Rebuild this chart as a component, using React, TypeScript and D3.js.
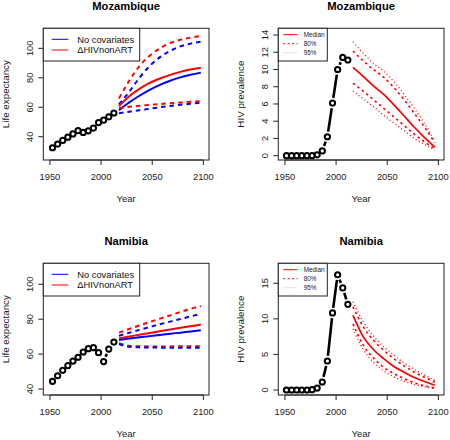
import React from 'react';
import * as d3 from 'd3';

// ---------- data ----------
const leObsYears = [1952.5, 1957.5, 1962.5, 1967.5, 1972.5, 1977.5, 1982.5, 1987.5, 1992.5, 1997.5, 2002.5, 2007.5, 2012.5];
const hivObsYears = [1951.5, 1956.5, 1961.5, 1966.5, 1971.5, 1976.5, 1981.5, 1986.5, 1991.5, 1996.5, 2001.5, 2006.5, 2011.5];
const leProjYears = [2017.5, 2027.5, 2037.5, 2047.5, 2057.5, 2067.5, 2077.5, 2087.5, 2097.5];
const hivProjYears = [2016.5, 2026.5, 2036.5, 2046.5, 2056.5, 2066.5, 2076.5, 2086.5, 2096.5];

const yearTicks = [1950, 2000, 2050, 2100];
const leTicks = [40, 60, 80, 100];
const mozHivTicks = [0, 2, 4, 6, 8, 10, 12, 14];
const namHivTicks = [0, 5, 10, 15];

const countries = ['Mozambique', 'Namibia'];
const leLegendLabels = ['No covariates', '\u0394HIVnonART'];
const hivLegendLabels = ['Median', '80%', '95%'];

// Mozambique life expectancy
const mozLE = [32.5, 35.0, 37.5, 39.7, 41.9, 44.1, 42.9, 44.0, 45.9, 49.6, 51.3, 53.5, 56.1];
const mozNoCovMedian = [58.0, 63.3, 67.8, 71.8, 75.2, 78.0, 80.3, 82.1, 83.5];
const mozNoCovUpper = [62.0, 70.5, 80.0, 88.0, 94.0, 98.3, 101.3, 103.2, 104.5];
const mozNoCovLower = [56.0, 57.0, 58.0, 59.0, 60.0, 60.9, 61.7, 62.4, 63.0];
const mozHivMedian = [60.8, 67.5, 72.5, 76.5, 79.5, 82.0, 84.0, 85.6, 86.8];
const mozHivUpper = [66.0, 78.0, 88.0, 95.0, 100.0, 103.5, 105.8, 107.3, 108.4];
const mozHivLower = [59.5, 60.3, 61.0, 61.6, 62.2, 62.7, 63.2, 63.7, 64.1];

// Namibia life expectancy
const namLE = [44.4, 47.6, 50.7, 53.4, 56.0, 58.2, 61.2, 63.1, 63.7, 60.8, 55.7, 62.9, 66.9];
const namNoCovMedian = [68.1, 68.9, 69.6, 70.3, 71.0, 71.7, 72.3, 73.0, 73.6];
const namNoCovUpper = [70.5, 72.2, 73.9, 75.5, 77.1, 78.6, 80.1, 81.6, 83.0];
const namNoCovLower = [65.8, 64.2, 63.9, 63.8, 63.7, 63.7, 63.7, 63.7, 63.7];
const namHivMedian = [69.0, 70.1, 71.1, 72.1, 73.1, 74.1, 75.1, 76.0, 76.9];
const namHivUpper = [72.3, 74.4, 76.4, 78.4, 80.3, 82.2, 84.1, 85.9, 87.6];
const namHivLower = [66.2, 64.8, 64.5, 64.4, 64.4, 64.4, 64.5, 64.5, 64.6];

// Mozambique HIV prevalence
const mozPrev = [0, 0, 0, 0, 0, 0, 0.1, 0.55, 2.2, 6.1, 10.0, 11.4, 11.1];
const mozPrevMedian = [10.25, 9.2, 8.1, 7.1, 5.9, 4.6, 3.3, 2.1, 1.0];
const mozPrev80Upper = [12.15, 11.0, 10.0, 9.1, 7.9, 6.5, 4.9, 3.3, 1.5];
const mozPrev80Lower = [8.4, 7.5, 6.5, 5.5, 4.5, 3.5, 2.5, 1.6, 0.8];
const mozPrev95Upper = [13.2, 11.9, 10.7, 9.8, 8.6, 7.1, 5.5, 3.7, 1.7];
const mozPrev95Lower = [7.5, 6.6, 5.7, 4.7, 3.8, 2.9, 2.0, 1.3, 0.65];

// Namibia HIV prevalence
const namPrev = [0, 0, 0, 0, 0, 0.05, 0.28, 1.13, 4.08, 10.83, 16.2, 14.35, 12.05];
const namPrevMedian = [10.5, 7.5, 5.7, 4.4, 3.3, 2.5, 1.75, 1.2, 0.66];
const namPrev80Upper = [11.7, 8.9, 7.0, 5.6, 4.4, 3.4, 2.5, 1.8, 1.1];
const namPrev80Lower = [9.3, 6.3, 4.5, 3.2, 2.3, 1.6, 1.0, 0.6, 0.28];
const namPrev95Upper = [12.4, 9.6, 7.6, 6.1, 4.9, 3.8, 2.9, 2.1, 1.35];
const namPrev95Lower = [8.6, 5.7, 3.9, 2.7, 1.85, 1.25, 0.8, 0.45, 0.2];

// ---------- styles ----------
const FONT = '"Liberation Sans", Arial, Helvetica, sans-serif';
const BLUE = '#0000ff';
const RED = '#ff0000';
const AXIS = '#222';

type Series = { values: number[]; color: string; dash?: string; width: number };

type PanelProps = {
  left: number; right: number; top: number; bottom: number;
  yDomain: [number, number];
  yTicks: number[];
  title: string;
  yLabel: string;
  obsYears: number[];
  obs: number[];
  projYears: number[];
  series: Series[];
  legend: 'le' | 'hiv';
};

function Panel(p: PanelProps) {
  const x = d3.scaleLinear().domain([1943.5, 2105.5]).range([p.left, p.right]);
  const y = d3.scaleLinear().domain(p.yDomain).range([p.bottom, p.top]);
  const line = d3.line<number>()
    .x((_, i) => x(p.projYears[i]))
    .y((d) => y(d))
    .curve(d3.curveMonotoneX);

  // type="b" segments with gaps around points
  const pts = p.obs.map((v, i) => [x(p.obsYears[i]), y(v)]);
  const gap = 5.2;
  const segs: number[][] = [];
  for (let i = 0; i < pts.length - 1; i++) {
    const [x0, y0] = pts[i];
    const [x1, y1] = pts[i + 1];
    const dx = x1 - x0, dy = y1 - y0;
    const d = Math.sqrt(dx * dx + dy * dy);
    if (d > 2 * gap) {
      const ux = dx / d, uy = dy / d;
      segs.push([x0 + ux * gap, y0 + uy * gap, x1 - ux * gap, y1 - uy * gap]);
    }
  }

  const cx = (p.left + p.right) / 2;
  const cy = (p.top + p.bottom) / 2;

  return (
    <g fontFamily={FONT}>
      <text x={cx} y={p.top - 18.5} textAnchor="middle" fontWeight="bold" fontSize={11.2} fill="#000">{p.title}</text>
      {/* x axis */}
      {yearTicks.map((t) => (
        <g key={'xt' + t}>
          <line x1={x(t)} x2={x(t)} y1={p.bottom} y2={p.bottom + 5} stroke={AXIS} strokeWidth={1} />
          <text x={x(t)} y={p.bottom + 16.7} dy="0.35em" textAnchor="middle" fontSize={9.3} fill="#222">{t}</text>
        </g>
      ))}
      <line x1={x(yearTicks[0])} x2={x(yearTicks[yearTicks.length - 1])} y1={p.bottom} y2={p.bottom} stroke={AXIS} />
      <text x={cx} y={p.bottom + 39} dy="0.35em" textAnchor="middle" fontSize={9.5} fill="#222">Year</text>
      {/* y axis */}
      {p.yTicks.map((t) => (
        <g key={'yt' + t}>
          <line x1={p.left - 5} x2={p.left} y1={y(t)} y2={y(t)} stroke={AXIS} strokeWidth={1} />
          <text transform={`translate(${p.left - 14},${y(t)}) rotate(-90)`} dy="0.35em" textAnchor="middle" fontSize={9.3} fill="#222">{t}</text>
        </g>
      ))}
      <text transform={`translate(${p.left - 37.3},${cy}) rotate(-90)`} dy="0.35em" textAnchor="middle" fontSize={9.8} fill="#222">{p.yLabel}</text>

      {/* projections */}
      {p.series.map((s, i) => (
        <path key={'s' + i} d={line(s.values) || ''} fill="none" stroke={s.color} strokeWidth={s.width} strokeDasharray={s.dash} />
      ))}

      {/* observed */}
      {segs.map((s, i) => (
        <line key={'seg' + i} x1={s[0]} y1={s[1]} x2={s[2]} y2={s[3]} stroke="#000" strokeWidth={2.6} />
      ))}
      {pts.map((q, i) => (
        <circle key={'c' + i} cx={q[0]} cy={q[1]} r={2.6} fill="none" stroke="#000" strokeWidth={2} />
      ))}

      {/* box */}
      <rect x={p.left} y={p.top} width={p.right - p.left} height={p.bottom - p.top} fill="none" stroke={AXIS} strokeWidth={1} />

      {/* legend */}
      {p.legend === 'le' ? (
        <g>
          <rect x={p.left} y={p.top} width={96.4} height={32.7} fill="#fff" stroke={AXIS} strokeWidth={1} />
          {leLegendLabels.map((lab, i) => {
            const ly = p.top + 11 + i * 10.7;
            return (
              <g key={'lg' + i}>
                <line x1={p.left + 8.4} x2={p.left + 25} y1={ly} y2={ly} stroke={i === 0 ? BLUE : RED} strokeWidth={1} />
                <text x={p.left + 34} y={ly} dy="0.35em" fontSize={9.3} fill="#111">{lab}</text>
              </g>
            );
          })}
        </g>
      ) : (
        <g>
          <rect x={p.left} y={p.top} width={49} height={32.7} fill="#fff" stroke={AXIS} strokeWidth={1} />
          {hivLegendLabels.map((lab, i) => {
            const ly = p.top + 6.4 + i * 9;
            const dash = i === 0 ? undefined : i === 1 ? '2,2.4' : '1,1.8';
            const col = i === 2 ? '#ff9999' : RED;
            return (
              <g key={'lg' + i}>
                <line x1={p.left + 5} x2={p.left + 19.4} y1={ly} y2={ly} stroke={col} strokeWidth={1} strokeDasharray={dash} />
                <text x={p.left + 25.4} y={ly} dy="0.35em" fontSize={6.4} fill="#222">{lab}</text>
              </g>
            );
          })}
        </g>
      )}
    </g>
  );
}

const LE_DASH = '4.5,4';
const P80_DASH = '2.4,3.2';
const P95_DASH = '1,2.6';

export default function App() {
  const mozLEseries: Series[] = [
    { values: mozNoCovMedian, color: BLUE, width: 2 },
    { values: mozNoCovUpper, color: BLUE, width: 2, dash: LE_DASH },
    { values: mozNoCovLower, color: BLUE, width: 2, dash: LE_DASH },
    { values: mozHivMedian, color: RED, width: 2 },
    { values: mozHivUpper, color: RED, width: 2, dash: LE_DASH },
    { values: mozHivLower, color: RED, width: 2, dash: LE_DASH },
  ];
  const namLEseries: Series[] = [
    { values: namHivMedian, color: RED, width: 2 },
    { values: namHivUpper, color: RED, width: 2, dash: LE_DASH },
    { values: namHivLower, color: RED, width: 2, dash: LE_DASH },
    { values: namNoCovMedian, color: BLUE, width: 2 },
    { values: namNoCovUpper, color: BLUE, width: 2, dash: LE_DASH },
    { values: namNoCovLower, color: BLUE, width: 2, dash: LE_DASH },
  ];
  const mozPrevSeries: Series[] = [
    { values: mozPrevMedian, color: RED, width: 1.7 },
    { values: mozPrev80Upper, color: RED, width: 1.6, dash: P80_DASH },
    { values: mozPrev80Lower, color: RED, width: 1.6, dash: P80_DASH },
    { values: mozPrev95Upper, color: RED, width: 1.3, dash: P95_DASH },
    { values: mozPrev95Lower, color: RED, width: 1.3, dash: P95_DASH },
  ];
  const namPrevSeries: Series[] = [
    { values: namPrevMedian, color: RED, width: 1.7 },
    { values: namPrev80Upper, color: RED, width: 1.6, dash: P80_DASH },
    { values: namPrev80Lower, color: RED, width: 1.6, dash: P80_DASH },
    { values: namPrev95Upper, color: RED, width: 1.3, dash: P95_DASH },
    { values: namPrev95Lower, color: RED, width: 1.3, dash: P95_DASH },
  ];

  return (
    <svg width={450} height={440} style={{ position: 'absolute', left: 0, top: 0, background: '#fff' }}>
      <rect x={0} y={0} width={450} height={440} fill="#fff" />
      <Panel left={43.3} right={209} top={28.3} bottom={160} yDomain={[24.2, 113.6]} yTicks={leTicks}
        title={countries[0]} yLabel="Life expectancy" obsYears={leObsYears} obs={mozLE}
        projYears={leProjYears} series={mozLEseries} legend="le" />
      <Panel left={278.3} right={444} top={28.3} bottom={160} yDomain={[-0.5, 14.78]} yTicks={mozHivTicks}
        title={countries[0]} yLabel="HIV prevalence" obsYears={hivObsYears} obs={mozPrev}
        projYears={hivProjYears} series={mozPrevSeries} legend="hiv" />
      <Panel left={43.3} right={209} top={263.3} bottom={395} yDomain={[36.56, 112.03]} yTicks={leTicks}
        title={countries[1]} yLabel="Life expectancy" obsYears={leObsYears} obs={namLE}
        projYears={leProjYears} series={namLEseries} legend="le" />
      <Panel left={278.3} right={444} top={263.3} bottom={395} yDomain={[-0.7, 17.81]} yTicks={namHivTicks}
        title={countries[1]} yLabel="HIV prevalence" obsYears={hivObsYears} obs={namPrev}
        projYears={hivProjYears} series={namPrevSeries} legend="hiv" />
    </svg>
  );
}
